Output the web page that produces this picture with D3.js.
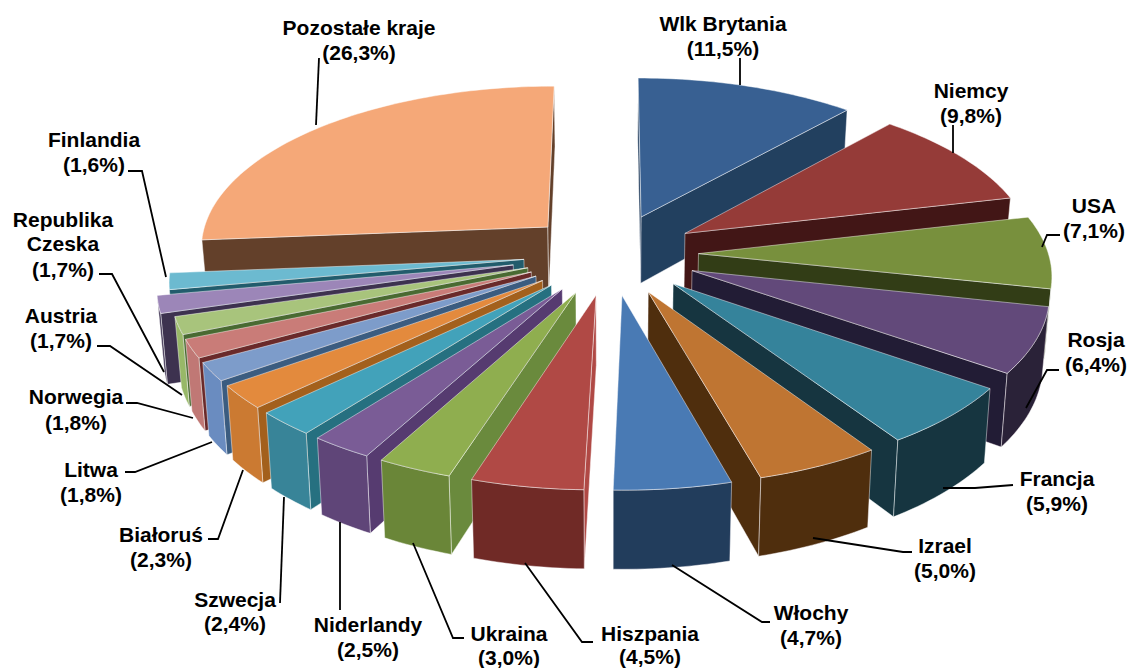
<!DOCTYPE html>
<html>
<head>
<meta charset="utf-8">
<script src="https://cdn.jsdelivr.net/npm/d3@7"></script>
<style>
  body { margin: 0; background: #fff; }
  text { font-family: "Liberation Sans", Arial, sans-serif; font-weight: bold; font-size: 21px; fill: #000; }
</style>
</head>
<body>
<script>
const countries = ['Wlk Brytania', 'Niemcy', 'USA', 'Rosja', 'Francja', 'Izrael', 'Włochy', 'Hiszpania', 'Ukraina',
  'Niderlandy', 'Szwecja', 'Białoruś', 'Litwa', 'Norwegia', 'Austria', 'Republika Czeska', 'Finlandia', 'Pozostałe kraje']
const shares = [11.5, 9.8, 7.1, 6.4, 5.9, 5.0, 4.7, 4.5, 3.0, 2.5, 2.4, 2.3, 1.8, 1.8, 1.7, 1.7, 1.6, 26.3]

// top, outer wall, radial wall
const topColors = ['#376092', '#953a38', '#78903e', '#624a7a', '#36839b', '#bf7431', '#4a7ab4', '#b04844', '#8fae50',
  '#7a5c96', '#42a2ba', '#e38a3e', '#7d9cca', '#c97b78', '#a8c47c', '#9c86b8', '#6cbad0', '#f5a878']
const outerColors = ['#243f5f', '#4a1a18', '#3a4a1c', '#2c2038', '#143540', '#4f2d10', '#243c5c', '#702a28', '#6a8638',
  '#5e4478', '#378498', '#cb7a32', '#6a8cc0', '#c07874', '#98b868', '#3c3050', '#3a8ca0', '#63412c']
const sideColors = ['#243f5f', '#431512', '#303c18', '#241a34', '#123540', '#4f2d10', '#243c5c', '#b04844', '#6a8a3c',
  '#563a70', '#267080', '#a3601e', '#3a5c80', '#6a2a2a', '#4a6a30', '#3c3050', '#205c6c', '#63412c']

const width = 1131
const height = 668

// perspective fit: explosion, tilt and camera distance
const explode = 0.25
const explodeCzech = 0.285 // this slice stands out further than the rest
const centerX = 611
const centerY = 254
const xScale = d3.scaleLinear().domain([0, 1]).range([0, 350])
const yScale = d3.scaleLinear().domain([0, 1]).range([0, 162.5])
const camera = 0.113
const depth = 68
const shrink = 0.985

function project (x, y, lower) {
  const w = 1 - camera * y
  const s = lower ? shrink : 1
  return [
    centerX + s * xScale(x) / w,
    centerY + yScale(y) / w + (lower ? depth / w : 0)
  ]
}

function outline (pts) {
  return d3.line()(pts) + 'Z'
}

const arcs = d3.pie().sort(null).value(d => d)(shares)
  .map((a, i) => ({ ...a, i, mid: (a.startAngle + a.endAngle) / 2 }))

const svg = d3.select('body').append('svg')
  .attr('width', width)
  .attr('height', height)

// the source is a soft, scaled-up bitmap
svg.append('defs').append('filter')
  .attr('id', 'soft')
  .append('feGaussianBlur')
  .attr('stdDeviation', 0.45)

const pieGroup = svg.append('g').attr('filter', 'url(#soft)')

function addFace (g, pts, fill) {
  g.append('path')
    .attr('d', outline(pts))
    .attr('fill', fill)
    .attr('stroke', '#fff')
    .attr('stroke-opacity', 0.45)
    .attr('stroke-width', 1)
    .attr('stroke-linejoin', 'round')
}

// back slices first
const order = arcs.slice().sort((a, b) => d3.ascending(-Math.cos(a.mid), -Math.cos(b.mid)))

order.forEach(a => {
  const g = pieGroup.append('g').attr('class', 'slice')
  const e = countries[a.i] === 'Republika Czeska' ? explodeCzech : explode
  const ox = e * Math.sin(a.mid)
  const oy = -e * Math.cos(a.mid)
  const steps = d3.range(0, 1.0001, 1 / Math.max(4, Math.ceil(a.value * 3)))
  const angle = d3.scaleLinear().domain([0, 1]).range([a.startAngle, a.endAngle])
  const rim = steps.map(t => [ox + Math.sin(angle(t)), oy - Math.cos(angle(t))])
  const tip = [ox, oy]

  const up = p => project(p[0], p[1], false)
  const low = p => project(p[0], p[1], true)

  // radial walls, only when facing the viewer
  const startWall = [up(tip), up(rim[0]), low(rim[0]), low(tip)]
  const endRim = rim[rim.length - 1]
  const endWall = [up(endRim), up(tip), low(tip), low(endRim)]
  if (d3.polygonArea(startWall) > 0) addFace(g, startWall, sideColors[a.i])
  if (d3.polygonArea(endWall) > 0) addFace(g, endWall, sideColors[a.i])

  // outer wall: keep the segments turned to the viewer
  const front = d3.range(rim.length - 1).filter(k => {
    return d3.polygonArea([up(rim[k]), up(rim[k + 1]), low(rim[k + 1]), low(rim[k])]) > 0
  })
  if (front.length) {
    const run = d3.range(front[0], front[front.length - 1] + 2).map(k => rim[k])
    addFace(g, run.map(up).concat(run.slice().reverse().map(low)), outerColors[a.i])
  }

  addFace(g, [up(tip)].concat(rim.map(up)), topColors[a.i])
})

// annotation layout, kept apart from the data
const labelLayout = [
  { x: 723, y: [31, 56], leader: [[740, 85], [740, 58]] },
  { x: 971, y: [98, 123], leader: [[953, 153], [953, 125]] },
  { x: 1094, y: [213, 238], leader: [[1042, 247], [1047, 235], [1060, 235]] },
  { x: 1096, y: [347, 372], leader: [[1026, 408], [1047, 370], [1059, 370]] },
  { x: 1057, y: [486, 511], leader: [[943, 488], [975, 488], [1013, 485]] },
  { x: 945, y: [553, 578], leader: [[813, 538], [903, 552], [912, 552]] },
  { x: 811, y: [620, 645], leader: [[672, 565], [762, 622], [770, 622]] },
  { x: 650, y: [641, 663.5], leader: [[525, 563], [582, 642], [593, 642]] },
  { x: 509, y: [641, 665], leader: [[413, 543], [453, 638], [464, 638]] },
  { x: 368, y: [632, 657], leader: [[340, 522], [340, 610]] },
  { x: 235, y: [607, 631], leader: [[284, 497], [280, 603]] },
  { x: 161, y: [542, 567], leader: [[243, 470], [218, 539], [208, 539]] },
  { x: 91, y: [477, 502], leader: [[212, 442], [135, 472], [125, 472]] },
  { x: 76, y: [404, 430], leader: [[193, 418], [137, 403], [126, 403]] },
  { x: 61, y: [323, 348], leader: [[182, 395], [110, 346], [97, 346]] },
  { x: 63, y: [227, 251, 277], leader: [[164, 372], [112, 274], [99, 274]] },
  { x: 94, y: [147, 172], leader: [[166, 277], [142, 171], [128, 171]] },
  { x: 359, y: [35, 60], leader: [[316, 125], [319, 58]] }
]

const percent = v => '(' + d3.format('.1f')(v).replace('.', ',') + '%)'

labelLayout.forEach((l, i) => {
  svg.append('path')
    .attr('d', d3.line()(l.leader))
    .attr('fill', 'none')
    .attr('stroke', '#000')
    .attr('stroke-width', 1.8)

  const lines = countries[i] === 'Republika Czeska' ? ['Republika', 'Czeska'] : [countries[i]]
  lines.push(percent(shares[i]))
  const text = svg.append('text').attr('text-anchor', 'middle')
  lines.forEach((s, k) => {
    text.append('tspan')
      .attr('x', l.x)
      .attr('y', l.y[k])
      .text(s)
  })
})
</script>
</body>
</html>
